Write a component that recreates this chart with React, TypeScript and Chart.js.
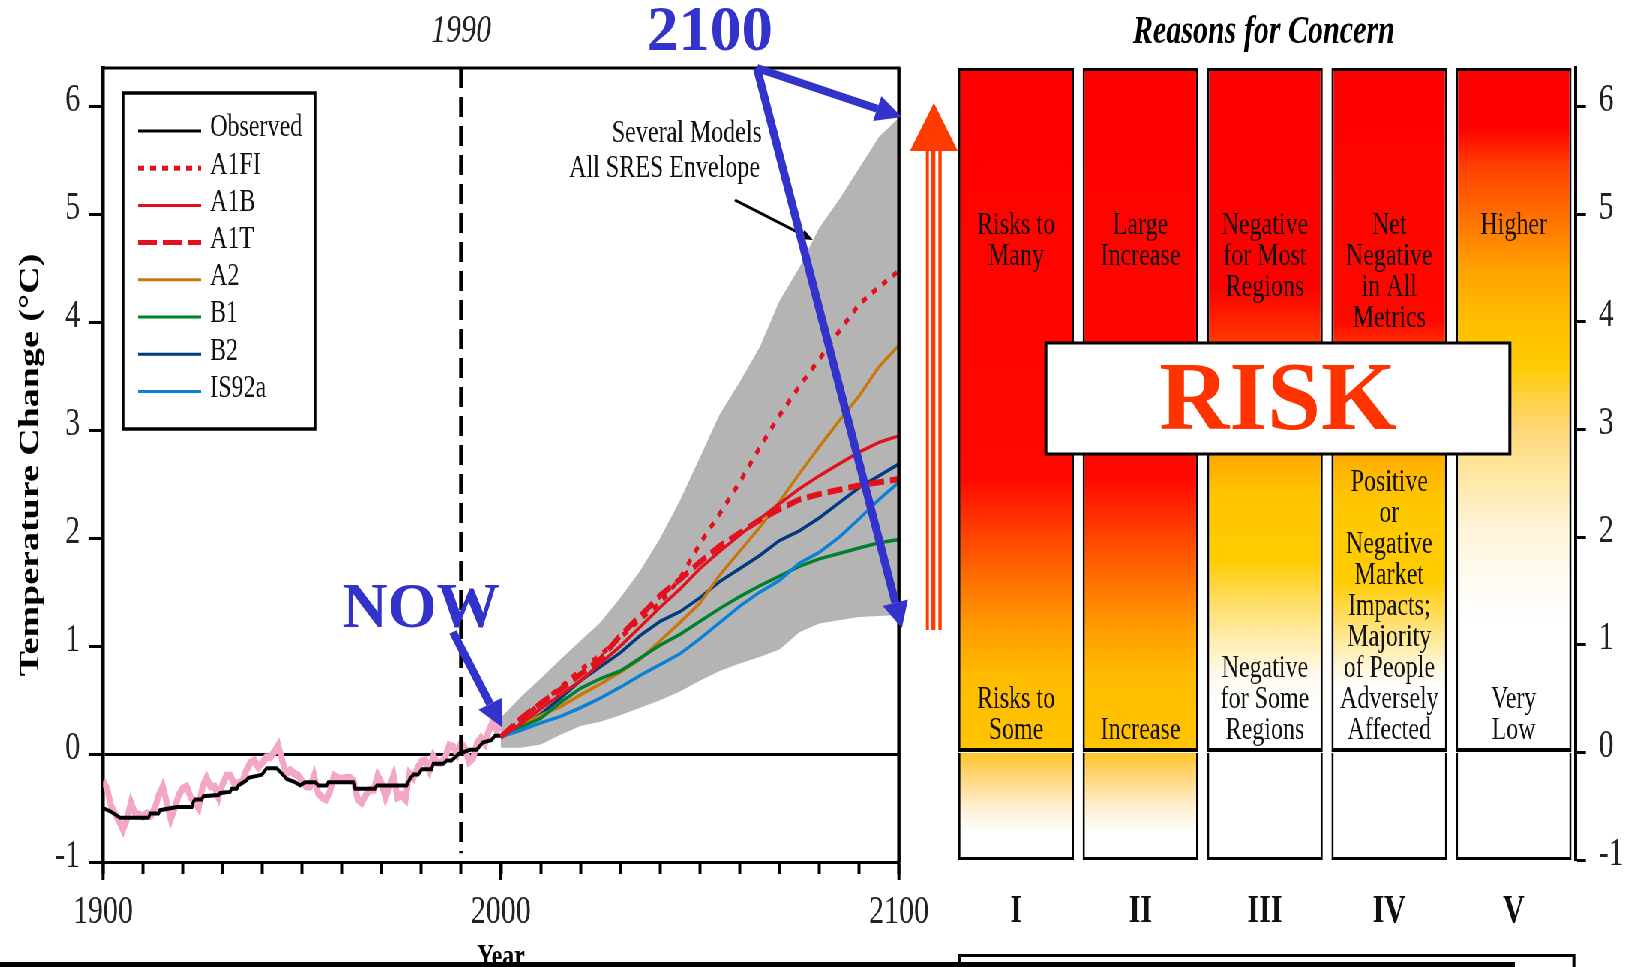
import React, { useEffect, useRef } from 'react';
import { Chart, registerables } from 'chart.js';

Chart.register(...registerables);

// ---------- layout constants (screen px; canvas is squeezed horizontally by S) ----------
const S = 0.75;
const C = 1 / S;
const CANVAS_W = Math.ceil(1627 * C);
const H = 967;
const SERIF = "'Liberation Serif', 'Times New Roman', serif";

// ---------- data ----------
const observedStartYear = 1900;
const observedAnnual = [
  -0.25, -0.32, -0.48, -0.55, -0.62, -0.7, -0.6, -0.45, -0.55, -0.56,
  -0.58, -0.55, -0.57, -0.5, -0.38, -0.3, -0.45, -0.6, -0.5, -0.38,
  -0.32, -0.3, -0.4, -0.45, -0.5, -0.3, -0.22, -0.3, -0.3, -0.4,
  -0.28, -0.2, -0.2, -0.28, -0.27, -0.25, -0.15, -0.08, -0.06, -0.12,
  -0.08, -0.03, -0.03, 0.02, 0.08, -0.06, -0.18, -0.15, -0.18, -0.2,
  -0.25, -0.3, -0.3, -0.2, -0.36, -0.4, -0.42, -0.35, -0.2, -0.22,
  -0.23, -0.22, -0.22, -0.25, -0.42, -0.45, -0.38, -0.33, -0.33, -0.2,
  -0.27, -0.4, -0.3, -0.2, -0.4, -0.38, -0.42, -0.18, -0.22, -0.13,
  -0.07, -0.06, -0.15, -0.02, -0.08, -0.08, -0.03, 0.08, 0.07, 0.0,
  0.1, 0.05, -0.07, -0.04, 0.1, 0.15, 0.1, 0.22, 0.3, 0.22,
  0.27,
];

const smoothYears = [
  1900, 1901.8, 1904.3, 1911.4, 1911.8, 1913.9, 1914.3, 1918.5, 1922.3, 1922.7,
  1923.1, 1924.8, 1925.2, 1929, 1929.4, 1931.9, 1932.3, 1933.6, 1934, 1936.1,
  1936.5, 1939.9, 1941.1, 1943.6, 1944.9, 1946.1, 1948.2, 1949.5, 1950.8, 1953.3,
  1954.1, 1956.2, 1956.6, 1962.9, 1963.3, 1968.3, 1968.8, 1976.3, 1977.1, 1978,
  1979.2, 1980.1, 1982.6, 1983, 1985.5, 1986.4, 1987.6, 1989.3, 1992.2, 1993.9,
  1995.5, 1997.6, 1998.5, 2000,
];
const smoothValues = [
  -0.5, -0.53, -0.59, -0.59, -0.55, -0.55, -0.52, -0.49, -0.49, -0.44,
  -0.42, -0.42, -0.39, -0.38, -0.36, -0.35, -0.32, -0.32, -0.29, -0.24,
  -0.22, -0.19, -0.13, -0.13, -0.18, -0.23, -0.26, -0.29, -0.26, -0.26,
  -0.29, -0.29, -0.26, -0.26, -0.32, -0.32, -0.29, -0.29, -0.23, -0.19,
  -0.19, -0.14, -0.14, -0.09, -0.09, -0.06, -0.06, 0.0, 0.04, 0.04,
  0.11, 0.13, 0.17, 0.17,
];

const projectionYears = [
  2000, 2005, 2010, 2015, 2020, 2025, 2030, 2035, 2040, 2045, 2050,
  2055, 2060, 2065, 2070, 2075, 2080, 2085, 2090, 2095, 2100,
];
const a1fi = [0.16, 0.32, 0.47, 0.62, 0.78, 0.92, 1.08, 1.25, 1.4, 1.63, 1.95, 2.23, 2.52, 2.84, 3.14, 3.41, 3.66, 3.92, 4.17, 4.33, 4.48];
const a1b = [0.16, 0.28, 0.42, 0.55, 0.68, 0.84, 1.0, 1.18, 1.36, 1.53, 1.72, 1.88, 2.03, 2.18, 2.32, 2.46, 2.58, 2.69, 2.8, 2.89, 2.95];
const a1t = [0.16, 0.33, 0.47, 0.6, 0.74, 0.88, 1.1, 1.28, 1.47, 1.62, 1.78, 1.93, 2.05, 2.17, 2.27, 2.36, 2.41, 2.45, 2.49, 2.52, 2.55];
const a2 = [0.16, 0.27, 0.36, 0.44, 0.55, 0.65, 0.76, 0.88, 1.05, 1.22, 1.4, 1.66, 1.88, 2.1, 2.34, 2.6, 2.85, 3.09, 3.32, 3.59, 3.79];
const b1 = [0.16, 0.25, 0.33, 0.48, 0.61, 0.7, 0.77, 0.89, 1.01, 1.11, 1.23, 1.35, 1.46, 1.56, 1.65, 1.74, 1.81, 1.86, 1.91, 1.96, 1.99];
const b2 = [0.16, 0.26, 0.37, 0.52, 0.68, 0.81, 0.94, 1.1, 1.23, 1.32, 1.45, 1.6, 1.72, 1.84, 1.98, 2.07, 2.19, 2.33, 2.47, 2.58, 2.69];
const is92a = [0.16, 0.22, 0.29, 0.35, 0.43, 0.52, 0.62, 0.73, 0.83, 0.93, 1.07, 1.22, 1.37, 1.5, 1.61, 1.77, 1.87, 2.01, 2.18, 2.36, 2.52];
const envelopeUpper = [0.34, 0.53, 0.7, 0.88, 1.05, 1.22, 1.45, 1.7, 2.0, 2.35, 2.75, 3.15, 3.45, 3.77, 4.2, 4.51, 4.88, 5.14, 5.43, 5.72, 5.9];
const envelopeLower = [0.06, 0.06, 0.09, 0.18, 0.26, 0.3, 0.36, 0.43, 0.5, 0.58, 0.68, 0.77, 0.84, 0.9, 0.97, 1.13, 1.21, 1.24, 1.27, 1.28, 1.29];

const referenceYear = 1990;
const yMin = -1;
const yMax = 6.36;
const yTickValues = [-1, 0, 1, 2, 3, 4, 5, 6];

const concernCategories = ['I', 'II', 'III', 'IV', 'V'];
const concernFloor = [-1, -1, -1, -1, -1];
const concernThreshold = [0, 0, 0, 0, 0];
const concernCeiling = [6.36, 6.36, 6.36, 6.36, 6.36];
const concernHighText = [
  ['Risks to', 'Many'],
  ['Large', 'Increase'],
  ['Negative', 'for Most', 'Regions'],
  ['Net', 'Negative', 'in All', 'Metrics'],
  ['Higher'],
];
const concernLowText = [
  ['Risks to', 'Some'],
  ['Increase'],
  ['Negative', 'for Some', 'Regions'],
  ['Positive', 'or', 'Negative', 'Market', 'Impacts;', 'Majority', 'of People', 'Adversely', 'Affected'],
  ['Very', 'Low'],
];

// ---------- styles ----------
const RED = '#e3101e';
const colors = {
  A1FI: RED, A1B: RED, A1T: RED, A2: '#c8780a', B1: '#00802e', B2: '#003a80', IS92a: '#0a80d8',
  Observed: '#000000', pink: '#f4a6c6', envelope: '#b4b4b4', blue: '#3333cc', orange: '#ff3c00',
};
const upperStops: [number, string][][] = [
  [[6.36, '#ff0000'], [2.55, '#ff0800'], [2.1, '#ff3a00'], [1.6, '#ff7000'], [1.15, '#ff9c00'], [0.7, '#ffbc00'], [0, '#ffc400']],
  [[6.36, '#ff0000'], [2.55, '#ff0800'], [2.1, '#ff3a00'], [1.6, '#ff7000'], [1.15, '#ff9c00'], [0.7, '#ffbc00'], [0, '#ffc400']],
  [[6.36, '#ff0000'], [4.3, '#ff0000'], [3.9, '#ff3000'], [3.3, '#ff7000'], [2.75, '#ffa800'], [2.4, '#ffc400'], [1.8, '#ffcc00'], [1.35, '#ffe070'], [1.0, '#fff0b8'], [0.7, '#fffaf0'], [0.4, '#ffffff'], [0, '#ffffff']],
  [[6.36, '#ff0000'], [4.0, '#ff0800'], [3.8, '#ff3000'], [3.2, '#ff7800'], [2.7, '#ffb000'], [2.3, '#ffc800'], [1.6, '#ffcc00'], [1.2, '#ffe070'], [0.85, '#fff4cc'], [0.6, '#ffffff'], [0, '#ffffff']],
  [[6.36, '#ff0000'], [5.8, '#ff0000'], [5.45, '#ff4000'], [4.9, '#ff7800'], [4.5, '#ffa200'], [4.0, '#ffbe00'], [3.6, '#ffcb00'], [3.3, '#ffd140'], [3.0, '#ffd878'], [2.6, '#ffe6a0'], [2.1, '#fff3d6'], [1.6, '#fffbf2'], [1.2, '#ffffff'], [0, '#ffffff']],
];
const lowerStops: [number, string][][] = [
  [[0, '#ffc420'], [-0.15, '#ffd060'], [-0.5, '#ffefd0'], [-0.75, '#ffffff'], [-1, '#ffffff']],
  [[0, '#ffc420'], [-0.15, '#ffd060'], [-0.5, '#ffefd0'], [-0.75, '#ffffff'], [-1, '#ffffff']],
  [[0, '#ffffff'], [-1, '#ffffff']],
  [[0, '#ffffff'], [-1, '#ffffff']],
  [[0, '#ffffff'], [-1, '#ffffff']],
];

// ---------- helpers ----------
const xy = (xs: number[], ys: number[]) => xs.map((x, i) => ({ x, y: ys[i] }));
const fixedYTicks = (s: any) => {
  s.ticks = yTickValues.map((v) => ({ value: v }));
};

function screen(ctx: CanvasRenderingContext2D, fn: () => void) {
  ctx.save();
  ctx.scale(C, 1);
  fn();
  ctx.restore();
}

function arrow(ctx: CanvasRenderingContext2D, x1: number, y1: number, x2: number, y2: number, lw: number, headLen: number, headHalf: number, color: string) {
  const a = Math.atan2(y2 - y1, x2 - x1);
  const bx = x2 - headLen * Math.cos(a);
  const by = y2 - headLen * Math.sin(a);
  ctx.strokeStyle = color;
  ctx.lineWidth = lw;
  ctx.lineCap = 'butt';
  ctx.beginPath();
  ctx.moveTo(x1, y1);
  ctx.lineTo(bx, by);
  ctx.stroke();
  ctx.fillStyle = color;
  ctx.beginPath();
  ctx.moveTo(x2, y2);
  ctx.lineTo(bx + headHalf * Math.sin(a), by - headHalf * Math.cos(a));
  ctx.lineTo(bx - headHalf * Math.sin(a), by + headHalf * Math.cos(a));
  ctx.closePath();
  ctx.fill();
}

function columnGradient(chart: any, stops: [number, string][] | undefined) {
  const { ctx, chartArea, scales } = chart;
  if (!chartArea || !stops) return '#ffffff';
  const y = scales.y;
  const top = y.getPixelForValue(yMax);
  const bottom = y.getPixelForValue(yMin);
  const g = ctx.createLinearGradient(0, top, 0, bottom);
  for (const [v, col] of stops) {
    const p = (y.getPixelForValue(v) - top) / (bottom - top);
    g.addColorStop(Math.min(1, Math.max(0, p)), col);
  }
  return g;
}

// ---------- left chart plugin ----------
const legendOrder = ['Observed', 'A1FI', 'A1B', 'A1T', 'A2', 'B1', 'B2', 'IS92a'];
const legendDash: Record<string, number[]> = { A1FI: [8, 8], A1T: [25, 8] };

const leftDecor = {
  id: 'leftDecor',
  afterDraw(chart: any) {
    const ctx: CanvasRenderingContext2D = chart.ctx;
    const { left, right, top, bottom } = chart.chartArea;
    const xs = chart.scales.x;
    ctx.save();
    ctx.strokeStyle = '#000';
    ctx.lineWidth = 3;
    ctx.beginPath(); ctx.moveTo(left, top); ctx.lineTo(right + 2, top); ctx.stroke();
    ctx.lineWidth = 4.5;
    ctx.beginPath(); ctx.moveTo(right, top); ctx.lineTo(right, bottom); ctx.stroke();
    ctx.lineWidth = 4;
    for (const v of [1900, 2000, 2100]) {
      const px = xs.getPixelForValue(v);
      ctx.beginPath(); ctx.moveTo(px, bottom); ctx.lineTo(px, bottom + 18); ctx.stroke();
    }
    // legend
    const lx1 = left + 20 * C, lx2 = left + 212 * C, ly1 = 93, ly2 = 429;
    ctx.fillStyle = '#fff';
    ctx.fillRect(lx1, ly1, lx2 - lx1, ly2 - ly1);
    ctx.lineWidth = 3.5;
    ctx.strokeStyle = '#000';
    ctx.strokeRect(lx1, ly1, lx2 - lx1, ly2 - ly1);
    ctx.font = `32px ${SERIF}`;
    ctx.textBaseline = 'middle';
    ctx.textAlign = 'left';
    legendOrder.forEach((label, i) => {
      const ds = chart.data.datasets.find((d: any) => d.label === label);
      const yy = 131 + i * 37.2;
      const dash = legendDash[label];
      ctx.strokeStyle = ds ? ds.borderColor : '#000';
      ctx.lineWidth = dash ? 5 : 3;
      ctx.setLineDash(dash || []);
      ctx.beginPath();
      ctx.moveTo(left + 35 * C, yy);
      ctx.lineTo(left + 98 * C, yy);
      ctx.stroke();
      ctx.setLineDash([]);
      ctx.fillStyle = '#111';
      ctx.fillText(label, left + 107 * C, yy - 3);
    });
    // 1990 label
    ctx.font = `italic 40px ${SERIF}`;
    ctx.textAlign = 'center';
    ctx.fillStyle = '#222';
    ctx.fillText(String(referenceYear), xs.getPixelForValue(referenceYear), 31);
    // envelope note
    ctx.font = `32px ${SERIF}`;
    ctx.textAlign = 'right';
    ctx.fillStyle = '#111';
    ctx.fillText('Several Models', 762 * C, 134);
    ctx.fillText('All SRES Envelope', 760 * C, 169);
    // Year title
    ctx.font = `bold 32px ${SERIF}`;
    ctx.textAlign = 'center';
    ctx.fillStyle = '#000';
    ctx.fillText('Year', (left + right) / 2, 958);

    screen(ctx, () => {
      arrow(ctx, 735, 200, 813, 240, 3, 12, 5, '#000');
      ctx.font = `bold 63px ${SERIF}`;
      ctx.textAlign = 'center';
      ctx.textBaseline = 'middle';
      ctx.fillStyle = colors.blue;
      ctx.fillText('2100', 710, 34);
      ctx.fillText('NOW', 421, 611);
      arrow(ctx, 757, 68, 902, 117, 8, 26, 13, colors.blue);
      arrow(ctx, 757, 68, 902, 628, 8, 26, 13, colors.blue);
      arrow(ctx, 453, 632, 502, 727, 8, 26, 13, colors.blue);
      ctx.fillStyle = colors.orange;
      ctx.beginPath();
      ctx.moveTo(934, 103); ctx.lineTo(910, 151); ctx.lineTo(958, 151); ctx.closePath();
      ctx.fill();
      ctx.fillRect(926, 151, 3, 479);
      ctx.fillRect(931, 151, 4.5, 479);
      ctx.fillRect(938.5, 151, 3.3, 479);
    });
    ctx.restore();
  },
};

// ---------- right chart plugin ----------
const rightDecor = {
  id: 'rightDecor',
  afterDraw(chart: any) {
    const ctx: CanvasRenderingContext2D = chart.ctx;
    const xs = chart.scales.x;
    const ys = chart.scales.y;
    ctx.save();
    ctx.font = `32px ${SERIF}`;
    ctx.textAlign = 'center';
    ctx.textBaseline = 'middle';
    ctx.fillStyle = '#111';
    const lh = 31;
    concernCategories.forEach((_, i) => {
      const cx = xs.getPixelForValue(i);
      const topY = ys.getPixelForValue(4.9);
      concernHighText[i].forEach((t, k) => ctx.fillText(t, cx, topY + k * lh));
      const lines = concernLowText[i];
      const lastY = ys.getPixelForValue(0.2);
      lines.forEach((t, k) => ctx.fillText(t, cx, lastY - (lines.length - 1 - k) * lh));
    });
    ctx.font = `bold italic 40px ${SERIF}`;
    ctx.fillStyle = '#000';
    ctx.fillText('Reasons for Concern', 1264 * C, 33);

    screen(ctx, () => {
      ctx.fillStyle = '#fff';
      ctx.fillRect(1046, 343, 464, 111);
      ctx.strokeStyle = '#000';
      ctx.lineWidth = 3;
      ctx.strokeRect(1046, 343, 464, 111);
      ctx.font = `bold 97px ${SERIF}`;
      ctx.textAlign = 'center';
      ctx.textBaseline = 'middle';
      ctx.fillStyle = '#ff3300';
      ctx.fillText('RISK', 1278, 404);
      ctx.fillStyle = '#000';
      ctx.fillRect(0, 962, 1515, 5);
      ctx.lineWidth = 3;
      ctx.beginPath();
      ctx.moveTo(960, 967); ctx.lineTo(960, 955.5); ctx.lineTo(1574, 955.5); ctx.lineTo(1574, 967);
      ctx.stroke();
    });
    ctx.restore();
  },
};

function leftConfig(): any {
  const line = (label: string, xsArr: number[], ysArr: number[], color: string, width: number, dash: number[] = []) => ({
    label, data: xy(xsArr, ysArr), borderColor: color, backgroundColor: color,
    borderWidth: width, borderDash: dash, pointRadius: 0, fill: false,
  });
  return {
    type: 'line',
    data: {
      datasets: [
        line('A1FI', projectionYears, a1fi, colors.A1FI, 5, [7, 9]),
        line('A1T', projectionYears, a1t, colors.A1T, 6, [20, 8]),
        line('A1B', projectionYears, a1b, colors.A1B, 3.5),
        line('IS92a', projectionYears, is92a, colors.IS92a, 3.5),
        line('B1', projectionYears, b1, colors.B1, 3.5),
        line('A2', projectionYears, a2, colors.A2, 3.5),
        line('B2', projectionYears, b2, colors.B2, 3.5),
        line('Observed', smoothYears, smoothValues, colors.Observed, 4),
        line('1990', [referenceYear, referenceYear], [yMax, -0.92], '#000', 5.3, [20, 9]),
        {
          label: 'Observed annual', data: observedAnnual.map((v, i) => ({ x: observedStartYear + i, y: v })),
          borderColor: colors.pink, backgroundColor: colors.pink, borderWidth: 8, pointRadius: 0, fill: false,
        },
        {
          label: 'Envelope max', data: xy(projectionYears, envelopeUpper), borderWidth: 0, borderColor: colors.envelope,
          backgroundColor: colors.envelope, pointRadius: 0, fill: '+1',
        },
        {
          label: 'Envelope min', data: xy(projectionYears, envelopeLower), borderWidth: 0, borderColor: colors.envelope,
          backgroundColor: colors.envelope, pointRadius: 0, fill: false,
        },
      ],
    },
    options: {
      animation: false,
      responsive: false,
      devicePixelRatio: 1,
      layout: { padding: { left: 0, top: 68, right: CANVAS_W - 899 * C, bottom: 0 } },
      plugins: { legend: { display: false }, tooltip: { enabled: false }, title: { display: false } },
      elements: { point: { radius: 0 }, line: { tension: 0 } },
      scales: {
        x: {
          type: 'linear', min: 1900, max: 2100,
          afterFit: (s: any) => { s.height = H - 862; },
          ticks: {
            stepSize: 10, autoSkip: false, maxRotation: 0,
            callback: (v: number) => (Math.round(v) % 100 === 0 ? String(Math.round(v)) : ''),
            font: { family: SERIF, size: 40 }, color: '#222', padding: 14,
          },
          grid: { drawOnChartArea: false, tickLength: 12, tickColor: '#000', tickWidth: 4 },
          border: { display: true, color: '#000', width: 3 },
        },
        y: {
          type: 'linear', min: yMin, max: yMax,
          afterFit: (s: any) => { s.width = 103 * C; },
          afterBuildTicks: fixedYTicks,
          ticks: { font: { family: SERIF, size: 40 }, color: '#222', padding: 12, labelOffset: -6 },
          grid: {
            color: (c: any) => (c.tick && c.tick.value === 0 ? '#000' : 'rgba(0,0,0,0)'),
            lineWidth: 3, tickColor: '#000', tickLength: 14 * C, tickWidth: 3,
          },
          border: { display: true, color: '#000', width: 4.5 },
          title: {
            display: true, text: 'Temperature Change (°C)', color: '#000',
            font: { family: SERIF, size: 38, weight: 'bold' }, padding: { top: 18, bottom: 0 },
          },
        },
      },
    },
    plugins: [leftDecor],
  };
}

function rightConfig(): any {
  const barBase = {
    borderColor: '#000', grouped: false, barPercentage: 0.93, categoryPercentage: 1,
  };
  return {
    type: 'bar',
    data: {
      labels: concernCategories,
      datasets: [
        {
          ...barBase, label: 'Upper',
          borderWidth: { top: 3, left: 3, right: 3, bottom: 4 }, borderSkipped: false,
          data: concernCategories.map((_, i) => [concernThreshold[i], concernCeiling[i]]),
          backgroundColor: (c: any) => columnGradient(c.chart, c.dataIndex == null ? undefined : upperStops[c.dataIndex]),
        },
        {
          ...barBase, label: 'Lower',
          borderWidth: 3, borderSkipped: 'start',
          data: concernCategories.map((_, i) => [concernFloor[i], concernThreshold[i]]),
          backgroundColor: (c: any) => columnGradient(c.chart, c.dataIndex == null ? undefined : lowerStops[c.dataIndex]),
        },
      ],
    },
    options: {
      animation: false,
      responsive: false,
      devicePixelRatio: 1,
      layout: { padding: { left: 954 * C, top: 68, right: 0, bottom: 0 } },
      plugins: { legend: { display: false }, tooltip: { enabled: false }, title: { display: false } },
      scales: {
        x: {
          type: 'category',
          afterFit: (s: any) => { s.height = H - 860; },
          grid: { display: false, drawTicks: false },
          border: { display: false },
          ticks: {
            autoSkip: false, maxRotation: 0,
            font: { family: SERIF, size: 40, weight: 'bold' }, color: '#111', padding: 28,
          },
        },
        y: {
          type: 'linear', position: 'right', min: yMin, max: yMax,
          afterBuildTicks: fixedYTicks,
          afterFit: (s: any) => { s.width = CANVAS_W - 1576 * C; },
          ticks: { font: { family: SERIF, size: 40 }, color: '#222', padding: 17, labelOffset: -6 },
          grid: { drawOnChartArea: false, tickLength: 10 * C, tickColor: '#000', tickWidth: 3 },
          border: { display: true, color: '#000', width: 4 },
        },
      },
    },
    plugins: [rightDecor],
  };
}

export default function App() {
  const leftRef = useRef<HTMLCanvasElement>(null);
  const rightRef = useRef<HTMLCanvasElement>(null);
  useEffect(() => {
    document.body.style.margin = '0';
    const l = new Chart(leftRef.current as HTMLCanvasElement, leftConfig());
    const r = new Chart(rightRef.current as HTMLCanvasElement, rightConfig());
    return () => {
      l.destroy();
      r.destroy();
    };
  }, []);
  return (
    <div style={{ position: 'relative', width: 1627, height: 967, overflow: 'hidden', background: '#fff' }}>
      <div
        style={{
          position: 'absolute', left: 0, top: 0, width: CANVAS_W, height: H,
          transform: `scaleX(${S})`, transformOrigin: '0 0',
        }}
      >
        <canvas ref={leftRef} width={CANVAS_W} height={H} style={{ position: 'absolute', left: 0, top: 0 }} />
        <canvas ref={rightRef} width={CANVAS_W} height={H} style={{ position: 'absolute', left: 0, top: 0 }} />
      </div>
    </div>
  );
}
